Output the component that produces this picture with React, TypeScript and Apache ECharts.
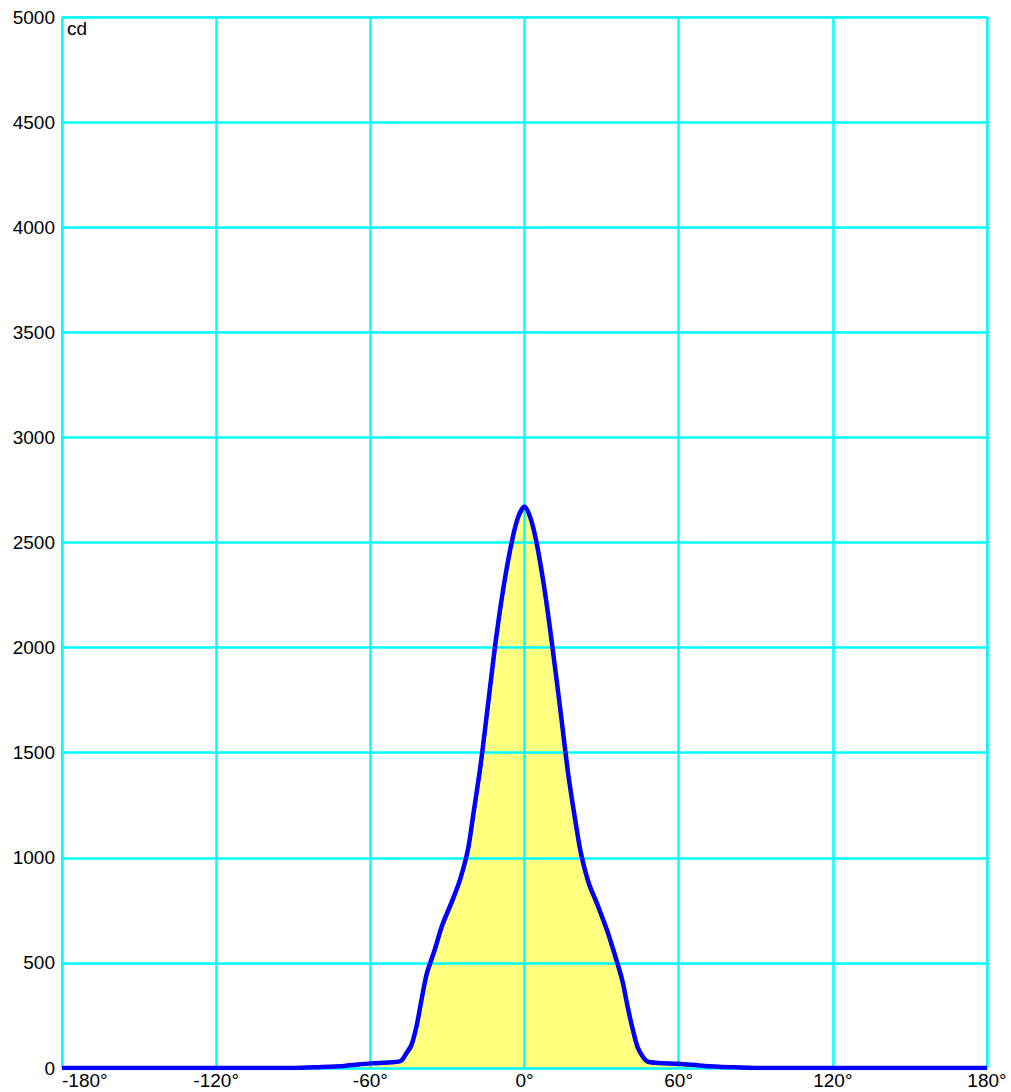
import React, { useEffect, useRef } from "react";
import * as echarts from "echarts";

const xTicks = [-180, -120, -60, 0, 60, 120, 180];
const yTicks = [0, 500, 1000, 1500, 2000, 2500, 3000, 3500, 4000, 4500, 5000];

const angles = [-180, -90, -80, -70, -60, -52, -48, -46, -44, -42, -40, -38, -35, -32, -28, -25, -22, -20, -17, -14, -11, -8, -5, -2.5, 0,
  2.5, 5, 8, 11, 14, 17, 20, 22, 25, 28, 32, 35, 38, 40, 42, 44, 46, 48, 52, 60, 70, 80, 90, 180];

const blueValues = [0, 0, 4, 10, 22, 27, 35, 70, 110, 200, 330, 450, 560, 680, 800, 900, 1040, 1200, 1450, 1750, 2050, 2300, 2500, 2620, 2670,
  2610, 2480, 2260, 1990, 1700, 1400, 1160, 1020, 880, 790, 660, 545, 420, 300, 190, 100, 55, 30, 24, 20, 10, 4, 0, 0];

const redValues = [0, 0, 4, 10, 21, 26, 32, 60, 95, 185, 315, 435, 545, 665, 785, 885, 1020, 1175, 1420, 1720, 2020, 2280, 2485, 2610, 2660,
  2600, 2465, 2240, 1965, 1675, 1375, 1140, 1000, 865, 775, 645, 530, 405, 285, 175, 90, 48, 27, 22, 19, 10, 4, 0, 0];

const yLabel = "cd";

export default function App() {
  const ref = useRef<HTMLDivElement>(null);
  useEffect(() => {
    if (!ref.current) return;
    const chart = echarts.init(ref.current, undefined, { renderer: "svg" });
    const blue = angles.map((a, i) => [a, blueValues[i]]);
    const red = angles.map((a, i) => [a, redValues[i]]);
    const font = "Liberation Sans, Arial, sans-serif";
    chart.setOption({
      animation: false,
      backgroundColor: "#ffffff",
      textStyle: { fontFamily: font },
      grid: {
        left: 62,
        right: 24,
        top: 17,
        bottom: 24,
        show: true,
        borderColor: "#1a7f7f",
        borderWidth: 1,
        backgroundColor: "transparent",
      },
      xAxis: {
        type: "value",
        min: -180,
        max: 180,
        interval: 60,
        z: 3,
        axisLine: { show: false },
        axisTick: { show: false },
        axisLabel: {
          color: "#000",
          fontSize: 19,
          fontFamily: font,
          margin: 3,
          alignMinLabel: "left",
          formatter: (v: number) => (xTicks.includes(v) ? v + "°" : ""),
        },
        splitLine: { show: true, lineStyle: { color: "#00ffff", width: 2.5 } },
      },
      yAxis: {
        type: "value",
        min: 0,
        max: 5000,
        interval: 500,
        z: 3,
        axisLine: { show: false },
        axisTick: { show: false },
        axisLabel: {
          color: "#000",
          fontSize: 19,
          fontFamily: font,
          margin: 7,
          formatter: (v: number) => (yTicks.includes(v) ? String(v) : ""),
        },
        splitLine: { show: true, lineStyle: { color: "#00ffff", width: 2.5 } },
      },
      graphic: [
        {
          type: "text",
          left: 67,
          top: 19,
          z: 10,
          style: { text: yLabel, fill: "#000", font: "19px Liberation Sans, Arial, sans-serif" },
        },
      ],
      series: [
        {
          type: "line",
          data: red,
          smooth: 0.3,
          showSymbol: false,
          z: 1,
          lineStyle: { color: "#ff0000", width: 2 },
          areaStyle: { color: "#ffff80", opacity: 1 },
        },
        {
          type: "line",
          data: blue,
          smooth: 0.3,
          showSymbol: false,
          z: 5,
          lineStyle: { color: "#0000ff", width: 4.5 },
        },
      ],
    });
    return () => chart.dispose();
  }, []);
  return (
    <div
      ref={ref}
      style={{ position: "fixed", left: 0, top: 0, width: 1011, height: 1092 }}
    />
  );
}
